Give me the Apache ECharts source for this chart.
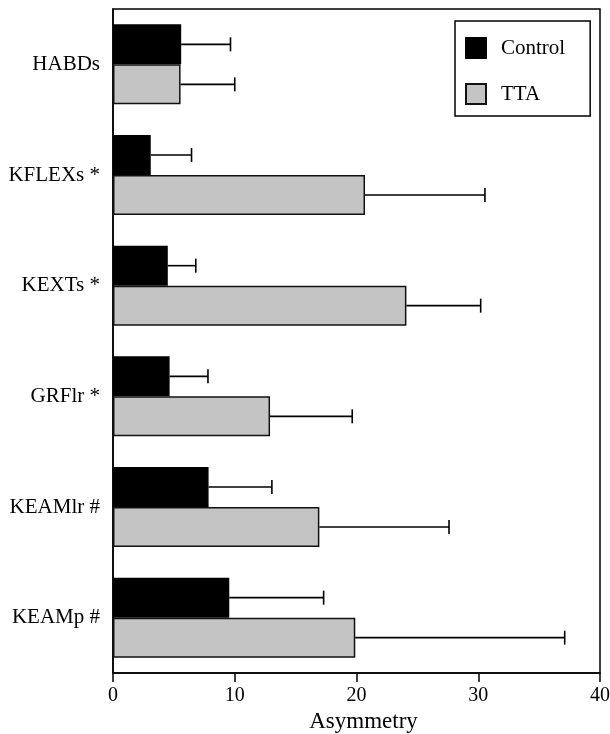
<!DOCTYPE html>
<html>
<head>
<meta charset="utf-8">
<script src="https://cdn.jsdelivr.net/npm/echarts@6/dist/echarts.min.js"></script>
<style>
html,body{margin:0;padding:0;background:#fff;}
#c{width:610px;height:734px;}
</style>
</head>
<body>
<div id="c"></div>
<script>
const categories = ['HABDs', 'KFLEXs *', 'KEXTs *', 'GRFlr *', 'KEAMlr #', 'KEAMp #'];
const controlMean = [5.6, 3.1, 4.5, 4.65, 7.85, 9.55];
const controlErr  = [9.65, 6.45, 6.8, 7.8, 13.05, 17.3];
const ttaMean     = [5.55, 20.7, 24.1, 12.9, 16.95, 19.9];
const ttaErr      = [10.0, 30.55, 30.2, 19.65, 27.6, 37.1];
const xTicks = [0, 10, 20, 30, 40];

const FONT = '"Liberation Serif", "Times New Roman", serif';
const BAR_W = 40;

function errSeries(name, means, errs, offset) {
  return {
    type: 'custom',
    name: name,
    z: 5,
    silent: true,
    encode: { x: 0, y: 1 },
    data: means.map((m, i) => [errs[i], i, m]),
    renderItem: function (params, api) {
      const cat = api.value(1);
      const s = api.coord([api.value(2), cat]);
      const e = api.coord([api.value(0), cat]);
      const y = s[1] + offset;
      const st = { stroke: '#000', lineWidth: 1.6 };
      return {
        type: 'group',
        children: [
          { type: 'line', shape: { x1: s[0], y1: y, x2: e[0], y2: y }, style: st },
          { type: 'line', shape: { x1: e[0], y1: y - 7, x2: e[0], y2: y + 7 }, style: st }
        ]
      };
    }
  };
}

const chart = echarts.init(document.getElementById('c'), null, { renderer: 'canvas' });
chart.setOption({
  backgroundColor: '#fff',
  animation: false,
  grid: {
    left: 113, right: 10, top: 9, bottom: 61,
    containLabel: false,
    outerBoundsMode: 'none',
    show: true, borderColor: '#000', borderWidth: 1.5, backgroundColor: 'transparent'
  },
  legend: {
    data: ['Control', 'TTA'],
    orient: 'vertical',
    left: 455, top: 21,
    padding: [16, 25, 11, 10],
    itemWidth: 20, itemHeight: 20, itemGap: 24,
    icon: 'rect',
    borderColor: '#000', borderWidth: 1.5,
    backgroundColor: '#fff',
    textStyle: { fontFamily: FONT, fontSize: 21, lineHeight: 20, color: '#000', padding: [0, 0, 0, 10] }
  },
  xAxis: {
    type: 'value',
    min: 0, max: 40, interval: 10,
    name: 'Asymmetry',
    nameLocation: 'middle',
    nameGap: 27,
    nameTextStyle: { fontFamily: FONT, fontSize: 23, color: '#000', padding: [0, 0, 0, 14] },
    axisLine: { show: true, lineStyle: { color: '#000', width: 1.5 } },
    axisTick: { show: true, length: 9, lineStyle: { color: '#000', width: 1.5 } },
    axisLabel: {
      fontFamily: FONT, fontSize: 20, color: '#000', margin: 13,
      formatter: v => xTicks.includes(v) ? String(v) : ''
    },
    splitLine: { show: false }
  },
  yAxis: {
    type: 'category',
    data: categories,
    inverse: true,
    axisLine: { show: true, lineStyle: { color: '#000', width: 1.5 } },
    axisTick: { show: false },
    axisLabel: { fontFamily: FONT, fontSize: 21, color: '#000', margin: 13 },
    splitLine: { show: false }
  },
  series: [
    {
      name: 'Control', type: 'bar', data: controlMean,
      barWidth: BAR_W, barGap: '0%',
      itemStyle: { color: '#000', borderColor: '#000', borderWidth: 1.5 }
    },
    {
      name: 'TTA', type: 'bar', data: ttaMean,
      barWidth: BAR_W, barGap: '0%',
      itemStyle: { color: '#c4c4c4', borderColor: '#111', borderWidth: 1.5 }
    },
    errSeries('errControl', controlMean, controlErr, -BAR_W / 2),
    errSeries('errTTA', ttaMean, ttaErr, BAR_W / 2)
  ]
});
</script>
</body>
</html>
